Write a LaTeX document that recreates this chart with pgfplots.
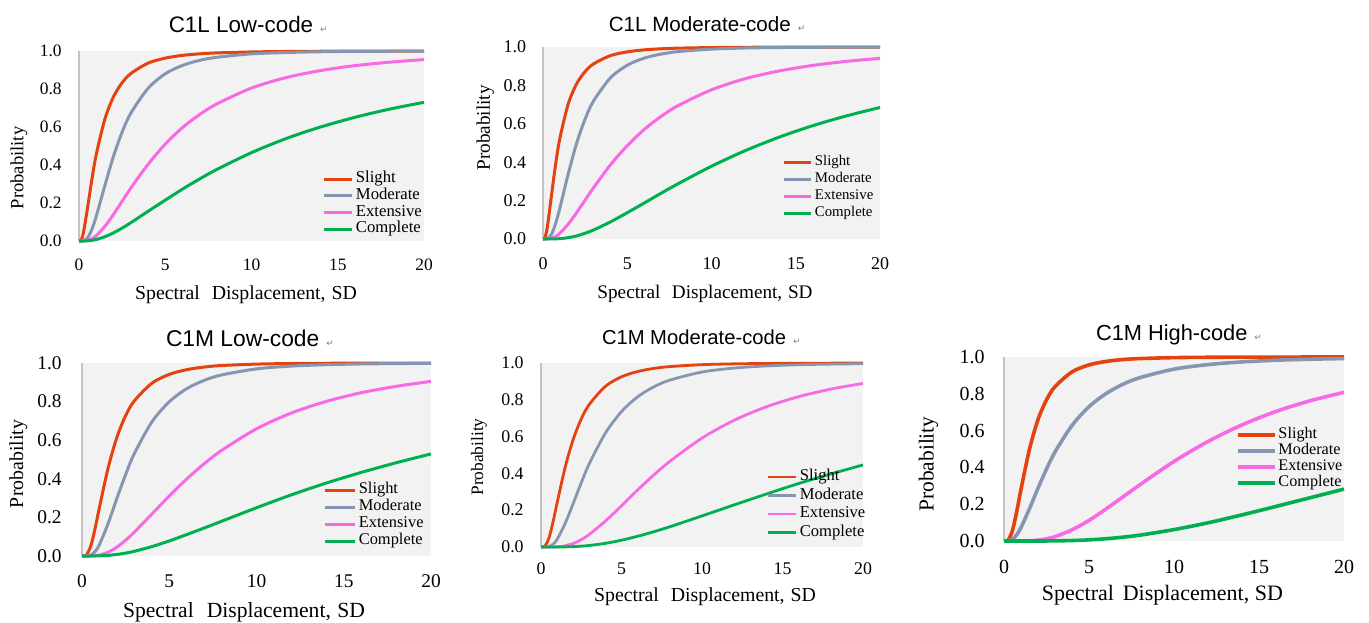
\documentclass[border=0pt]{standalone}
\usepackage{fontspec}
\setmainfont{Liberation Serif}
\newfontfamily\sans{Liberation Sans}
\newfontfamily\dejavu{DejaVu Sans}
\usepackage{pgfplots}
\usepackage{pgfplotstable}
\pgfplotsset{compat=1.18}

\definecolor{cslight}{RGB}{228,66,14}
\definecolor{cmod}{RGB}{133,151,176}
\definecolor{cext}{RGB}{248,106,228}
\definecolor{ccomp}{RGB}{0,176,80}
\definecolor{bgc}{RGB}{242,242,242}
\definecolor{axc}{RGB}{195,195,195}

% x  Slight  Moderate  Extensive  Complete
\pgfplotstableread{
x s m e c
0 0 0 0 0
0.1 0.0024 0 0 0
0.25 0.041 0.001 0.0002 0
0.5 0.177 0.017 0.003 0.001
0.75 0.326 0.062 0.012 0.0035
1 0.455 0.130 0.028 0.008
1.5 0.642 0.292 0.077 0.0225
2 0.759 0.446 0.140 0.043
2.5 0.833 0.573 0.209 0.068
3 0.881 0.672 0.278 0.096
4 0.936 0.803 0.403 0.156
5 0.9625 0.880 0.510 0.215
6 0.977 0.924 0.597 0.273
7 0.985 0.951 0.666 0.327
8 0.990 0.967 0.722 0.377
10 0.995 0.985 0.805 0.465
12 0.9975 0.992 0.860 0.539
14 0.9987 0.996 0.897 0.600
16 0.9992 0.998 0.923 0.651
18 0.9995 0.9987 0.941 0.694
20 0.9997 0.9992 0.955 0.730
}\tabA

\pgfplotstableread{
x s m e c
0 0 0 0 0
0.1 0.004 0 0 0
0.25 0.058 0.0015 0.0003 0
0.5 0.225 0.024 0.004 0.0001
0.75 0.390 0.081 0.013 0.0006
1 0.524 0.161 0.030 0.0017
1.5 0.704 0.340 0.078 0.0069
2 0.809 0.500 0.138 0.016
2.5 0.872 0.625 0.203 0.030
3 0.912 0.719 0.267 0.047
4 0.955 0.839 0.386 0.089
5 0.9746 0.905 0.486 0.137
6 0.985 0.942 0.570 0.187
7 0.9906 0.963 0.638 0.238
8 0.994 0.976 0.694 0.287
10 0.997 0.989 0.777 0.379
12 0.9985 0.9948 0.835 0.460
14 0.9992 0.9973 0.875 0.530
16 0.9995 0.9985 0.904 0.590
18 0.9997 0.9992 0.925 0.641
20 0.9998 0.9995 0.941 0.685
}\tabB

\pgfplotstableread{
x s m e c
0 0 0 0 0
0.1 0.0001 0 0 0
0.25 0.0047 0.0001 0 0
0.5 0.051 0.0047 0.0003 0
0.75 0.142 0.023 0.0016 0.0003
1 0.252 0.059 0.005 0.0008
1.5 0.457 0.169 0.020 0.0033
2 0.615 0.299 0.046 0.008
2.5 0.727 0.422 0.082 0.015
3 0.804 0.531 0.124 0.0245
4 0.895 0.694 0.217 0.0486
5 0.941 0.799 0.311 0.078
6 0.9655 0.867 0.399 0.111
7 0.979 0.910 0.478 0.145
8 0.987 0.938 0.547 0.180
10 0.9943 0.9696 0.659 0.250
12 0.9973 0.984 0.741 0.317
14 0.9986 0.9912 0.801 0.378
16 0.9993 0.995 0.846 0.433
18 0.9996 0.997 0.879 0.483
20 0.9998 0.998 0.905 0.529
}\tabC

\pgfplotstableread{
x s m e c
0 0 0 0 0
0.1 0 0 0 0
0.25 0.0053 0.0001 0 0
0.5 0.051 0.003 0 0
0.75 0.137 0.0155 0.0003 0
1 0.240 0.0415 0.0011 0.0001
1.5 0.433 0.128 0.0066 0.0006
2 0.585 0.237 0.019 0.002
2.5 0.696 0.349 0.040 0.0045
3 0.775 0.453 0.0685 0.0084
4 0.873 0.619 0.141 0.020
5 0.925 0.736 0.224 0.037
6 0.9536 0.816 0.310 0.0584
7 0.9704 0.870 0.391 0.083
8 0.9805 0.907 0.465 0.110
10 0.991 0.951 0.592 0.169
12 0.9954 0.9726 0.689 0.229
14 0.9975 0.984 0.762 0.288
16 0.9986 0.9905 0.817 0.345
18 0.9992 0.994 0.858 0.397
20 0.9995 0.9962 0.889 0.446
}\tabD

\pgfplotstableread{
x s m e c
0 0 0 0 0
0.1 0 0 0 0
0.25 0.0053 0.0006 0 0
0.5 0.058 0.0097 0 0
0.75 0.161 0.0345 0 0
1 0.281 0.0735 0.0001 0
1.5 0.500 0.176 0.0013 0
2 0.660 0.287 0.0048 0.0001
2.5 0.767 0.391 0.012 0.0003
3 0.839 0.484 0.0238 0.0007
4 0.919 0.628 0.0607 0.0025
5 0.957 0.730 0.112 0.0062
6 0.976 0.801 0.174 0.0123
7 0.986 0.852 0.240 0.021
8 0.9916 0.888 0.306 0.032
10 0.9966 0.934 0.4325 0.062
12 0.9985 0.9587 0.541 0.099
14 0.9993 0.9734 0.631 0.142
16 0.9996 0.9824 0.704 0.188
18 0.9998 0.988 0.762 0.235
20 0.9999 0.9916 0.808 0.282
}\tabE

\pgfplotsset{
  base/.style={
    scale only axis, clip=false,
    xmin=0, xmax=20, ymin=0, ymax=1,
    xtick={0,5,10,15,20}, xticklabels={0,5,10,15,20},
    ytick={0,0.2,0.4,0.6,0.8,1}, yticklabels={0.0,0.2,0.4,0.6,0.8,1.0},
    tick style={draw=none}, major tick length=0pt,
    axis line style={draw=none},
    axis background/.style={fill=bgc},
    yticklabel style={anchor=east, inner sep=0pt},
    xticklabel style={anchor=north, inner sep=0pt},
    legend cell align=left,
    legend style={anchor=north west, draw=none, fill=none, inner sep=0pt,
      outer sep=0pt, nodes={inner sep=0pt, text height=6pt, text depth=2.4pt}},
    every axis plot/.append style={smooth},
  },
  panel/.style n args={9}{
    at={(#1)}, anchor=south west, width=#2, height=#3,
    ticklabel style={font=\fontsize{#4}{#4}\selectfont},
    yticklabel style={xshift=-#5},
    xticklabel style={yshift=-#6},
    legend style={at={(#7)}, font=\fontsize{#8}{#8}\selectfont},
    legend image code/.code={\draw[##1] (0pt,0pt) -- (#9,0pt); \path (#9+1pt,0pt);},
  },
}

\begin{document}
\begin{tikzpicture}
\path[use as bounding box] (0,0) rectangle (684.5pt,311pt);

% C1L Low-code
\begin{axis}[base, panel={39.5pt,190.5pt}{172.5pt}{95pt}{8.7}{8.5pt}{9pt}{0.707,0.370}{8.35}{14pt},
  legend style={nodes={text depth=2.35pt}}]
  \draw[axc, line width=0.9pt] (axis cs:0,0) -- (axis cs:0,1);
  \addplot[cslight, line width=1.5pt] table[x=x, y=s] {\tabA};
  \addplot[cmod, line width=1.5pt] table[x=x, y=m] {\tabA};
  \addplot[cext, line width=1.5pt] table[x=x, y=e] {\tabA};
  \addplot[ccomp, line width=1.5pt] table[x=x, y=c] {\tabA};
  \legend{Slight,Moderate,Extensive,Complete}
\end{axis}

% C1L Moderate-code
\begin{axis}[base, panel={271.5pt,191.5pt}{168.5pt}{96pt}{9}{8.2pt}{9pt}{0.712,0.445}{7.4}{13.5pt},
  legend style={nodes={text depth=2.5pt}}]
  \draw[axc, line width=0.9pt] (axis cs:0,0) -- (axis cs:0,1);
  \addplot[cslight, line width=1.5pt] table[x=x, y=s] {\tabB};
  \addplot[cmod, line width=1.5pt] table[x=x, y=m] {\tabB};
  \addplot[cext, line width=1.5pt] table[x=x, y=e] {\tabB};
  \addplot[ccomp, line width=1.5pt] table[x=x, y=c] {\tabB};
  \legend{Slight,Moderate,Extensive,Complete}
\end{axis}

% C1M Low-code
\begin{axis}[base, panel={41pt,33pt}{174.5pt}{96.5pt}{9.7}{10pt}{9pt}{0.693,0.386}{8.2}{15pt},
  legend style={nodes={text depth=2.5pt}}]
  \draw[axc, line width=0.9pt] (axis cs:0,0) -- (axis cs:0,1);
  \addplot[cslight, line width=1.5pt] table[x=x, y=s] {\tabC};
  \addplot[cmod, line width=1.5pt] table[x=x, y=m] {\tabC};
  \addplot[cext, line width=1.5pt] table[x=x, y=e] {\tabC};
  \addplot[ccomp, line width=1.5pt] table[x=x, y=c] {\tabC};
  \legend{Slight,Moderate,Extensive,Complete}
\end{axis}

% C1M Moderate-code
\begin{axis}[base, panel={270.5pt,37.5pt}{161pt}{92pt}{8.9}{8.5pt}{7.5pt}{0.702,0.431}{8.3}{14pt},
  legend style={nodes={text height=6.5pt, text depth=2.75pt}}]
  \draw[axc, line width=0.9pt] (axis cs:0,0) -- (axis cs:0,1);
  \addplot[cslight, line width=1.4pt] table[x=x, y=s] {\tabD};
  \addplot[cmod, line width=1.4pt] table[x=x, y=m] {\tabD};
  \addplot[cext, line width=1.4pt] table[x=x, y=e] {\tabD};
  \addplot[ccomp, line width=1.4pt] table[x=x, y=c] {\tabD};
  \legend{Slight,Moderate,Extensive,Complete}
\end{axis}

% C1M High-code
\begin{axis}[base, panel={502pt,40.5pt}{170pt}{92pt}{10}{9.5pt}{9.5pt}{0.682,0.62}{8.1}{18.5pt},
  legend style={nodes={text height=5.8pt, text depth=2.2pt}}]
  \draw[axc, line width=0.9pt] (axis cs:0,0) -- (axis cs:0,1);
  \addplot[cslight, line width=1.8pt] table[x=x, y=s] {\tabE};
  \addplot[cmod, line width=1.8pt] table[x=x, y=m] {\tabE};
  \addplot[cext, line width=1.8pt] table[x=x, y=e] {\tabE};
  \addplot[ccomp, line width=1.8pt] table[x=x, y=c] {\tabE};
  \legend{Slight,Moderate,Extensive,Complete}
\end{axis}

% titles
\node[anchor=base west, inner sep=0pt, font=\sans\fontsize{11.2}{13}\selectfont] at (84.2pt,294.7pt)
  {C1L Low-code\hspace{3.5pt}{\dejavu\fontsize{4.5}{5}\selectfont\color{gray}↵}};
\node[anchor=base west, inner sep=0pt, font=\sans\fontsize{10.3}{12}\selectfont] at (304.2pt,295.2pt)
  {C1L Moderate-code\hspace{3.5pt}{\dejavu\fontsize{4.5}{5}\selectfont\color{gray}↵}};
\node[anchor=base west, inner sep=0pt, font=\sans\fontsize{11.4}{13}\selectfont] at (82.8pt,138pt)
  {C1M Low-code\hspace{3.5pt}{\dejavu\fontsize{4.5}{5}\selectfont\color{gray}↵}};
\node[anchor=base west, inner sep=0pt, font=\sans\fontsize{10.1}{12}\selectfont] at (300.8pt,139pt)
  {C1M Moderate-code\hspace{3.5pt}{\dejavu\fontsize{4.5}{5}\selectfont\color{gray}↵}};
\node[anchor=base west, inner sep=0pt, font=\sans\fontsize{10.9}{12}\selectfont] at (547.8pt,141pt)
  {C1M High-code\hspace{3.5pt}{\dejavu\fontsize{4.5}{5}\selectfont\color{gray}↵}};

% x labels
\node[anchor=base, inner sep=0pt, font=\fontsize{9.9}{11}\selectfont] at (123pt,161pt)
  {Spectral\hspace{0.6em}Displacement,\hspace{0.3em}SD};
\node[anchor=base, inner sep=0pt, font=\fontsize{9.6}{11}\selectfont] at (352.5pt,161.8pt)
  {Spectral\hspace{0.6em}Displacement,\hspace{0.3em}SD};
\node[anchor=base, inner sep=0pt, font=\fontsize{10.8}{12}\selectfont] at (122pt,2.4pt)
  {Spectral\hspace{0.6em}Displacement,\hspace{0.3em}SD};
\node[anchor=base, inner sep=0pt, font=\fontsize{9.9}{11}\selectfont] at (352.5pt,10.2pt)
  {Spectral\hspace{0.6em}Displacement,\hspace{0.3em}SD};
\node[anchor=base, inner sep=0pt, font=\fontsize{11}{12}\selectfont] at (581.2pt,11pt)
  {Spectral\hspace{0.4em}Displacement, SD};

% y labels
\node[rotate=90, inner sep=0pt, font=\fontsize{9.3}{10}\selectfont] at (9.5pt,227pt) {Probability};
\node[rotate=90, inner sep=0pt, font=\fontsize{9.6}{10}\selectfont] at (242.7pt,247pt) {Probability};
\node[rotate=90, inner sep=0pt, font=\fontsize{9.9}{10}\selectfont] at (9.2pt,79pt) {Probability};
\node[rotate=90, inner sep=0pt, font=\fontsize{8.7}{10}\selectfont] at (239.5pt,82.5pt) {Probability};
\node[rotate=90, inner sep=0pt, font=\fontsize{10.7}{12}\selectfont] at (464.3pt,79pt) {Probability};
\end{tikzpicture}
\end{document}
